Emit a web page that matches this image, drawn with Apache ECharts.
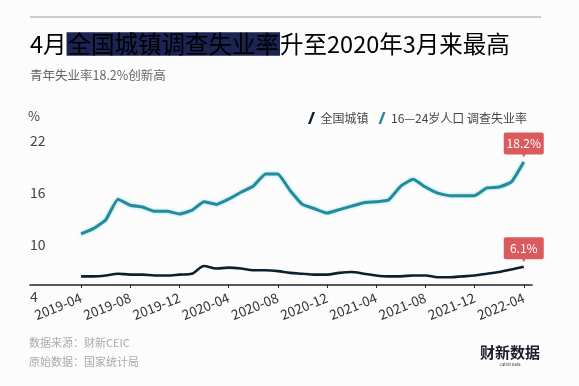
<!DOCTYPE html>
<html><head><meta charset="utf-8">
<script src="https://cdn.jsdelivr.net/npm/echarts@6/dist/echarts.min.js"></script>
<style>html,body{margin:0;padding:0;background:#fcfcfc}#c{width:579px;height:386px}</style>
</head><body><div id="c"></div>
<script>
const months = ['2019-04','2019-05','2019-06','2019-07','2019-08','2019-09','2019-10','2019-11','2019-12',
  '2020-01','2020-02','2020-03','2020-04','2020-05','2020-06','2020-07','2020-08','2020-09','2020-10','2020-11','2020-12',
  '2021-01','2021-02','2021-03','2021-04','2021-05','2021-06','2021-07','2021-08','2021-09','2021-10','2021-11','2021-12',
  '2022-01','2022-02','2022-03','2022-04'];
const tickLabels = ['2019-04','2019-08','2019-12','2020-04','2020-08','2020-12','2021-04','2021-08','2021-12','2022-04'];
const youth = [9.9,10.5,11.5,13.9,13.2,13.0,12.5,12.5,12.2,12.6,13.6,13.3,13.9,14.7,15.4,16.8,16.8,14.9,13.3,12.8,12.3,
  12.7,13.1,13.5,13.6,13.8,15.4,16.2,15.3,14.6,14.3,14.3,14.3,15.2,15.3,15.9,18.2];
const national = [5.0,5.0,5.1,5.3,5.2,5.2,5.1,5.1,5.2,5.3,6.2,5.9,6.0,5.9,5.7,5.7,5.6,5.4,5.3,5.2,5.2,
  5.4,5.5,5.3,5.1,5.0,5.0,5.1,5.1,4.9,4.9,5.0,5.1,5.3,5.5,5.8,6.1];
const yTicks = [4,10,16,22];
const seriesNames = ['全国城镇','16—24岁人口 调查失业率'];

const FONT = '"Noto Sans CJK SC","Noto Sans",sans-serif';
const tickIdx = tickLabels.map(t => months.indexOf(t));

const toData = arr => arr.map((v,i) => [i,v]);
const callout = 'path://M2,0 H38 Q40,0 40,2 V20 Q40,22 38,22 H21.5 L20,25 L18.5,22 H2 Q0,22 0,20 V2 Q0,0 2,0 Z';
function endMark(arr){
  const i = arr.length-1;
  return {
    symbol:callout, symbolSize:[40,25], symbolOffset:[0,-17], silent:true,
    itemStyle:{color:'#d95b5e'},
    label:{show:true, position:'inside', offset:[0,-1.5], color:'#fff', fontSize:12, fontFamily:FONT,
      formatter: p => p.value.toFixed(1) + '%'},
    data:[{coord:[i, arr[i]], value:arr[i]}]
  };
}
const slash = 'path://M3,12 L0.5,12 L5,0 L7.5,0 Z';

const chart = echarts.init(document.getElementById('c'), null, {renderer:'canvas'});
chart.setOption({
  backgroundColor:'#fcfcfc',
  animation:false,
  textStyle:{fontFamily:FONT},
  grid:{left:30, right:47, top:129, bottom:101, containLabel:false},
  legend:{
    data:[{name:seriesNames[0], icon:slash},{name:seriesNames[1], icon:slash}],
    left:303, top:107, itemWidth:8, itemHeight:12, itemGap:10,
    textStyle:{color:'#444', fontSize:12, fontFamily:FONT}
  },
  xAxis:{
    type:'value', min:-4.15, max:36.67,
    splitLine:{show:false},
    axisLine:{show:true, onZero:false, lineStyle:{color:'#222', width:1.5}},
    axisTick:{show:true, customValues:tickIdx, length:3, lineStyle:{color:'#222'}},
    axisLabel:{customValues:tickIdx, rotate:22, margin:12, fontSize:13.5, color:'#333',
      formatter: v => months[Math.round(v)]}
  },
  yAxis:{
    type:'value', min:yTicks[0], max:yTicks[yTicks.length-1], interval:6,
    name:'%', nameGap:6, nameTextStyle:{align:'left', color:'#444', fontSize:13, padding:[0,0,0,-2]},
    splitLine:{show:false}, axisLine:{show:false, onZero:false}, axisTick:{show:false},
    axisLabel:{inside:true, margin:0, fontSize:14, color:'#444', verticalAlign:'top', padding:[5,0,0,0],
      customValues:yTicks}
  },
  series:[
    {name:seriesNames[0], type:'line', data:toData(national), showSymbol:false, symbol:'none',
      smooth:0.3, lineStyle:{color:'#0e1f2c', width:2.6}, itemStyle:{color:'#0e1f2c'},
      markPoint:endMark(national), z:3},
    {name:seriesNames[1], type:'line', data:toData(youth), showSymbol:false, symbol:'none',
      smooth:0.12, lineStyle:{color:'#258b9c', width:3, shadowColor:'rgba(70,200,220,0.6)', shadowBlur:3},
      itemStyle:{color:'#258b9c'}, markPoint:endMark(youth), z:4}
  ],
  graphic:[
    {type:'line', shape:{x1:30,y1:17,x2:541,y2:17}, style:{stroke:'#9a9a9a', lineWidth:1}},
    {type:'text', x:30, y:44, style:{
      text:'{a|4月}{h|全国城镇调查失业率}{a|升至2020年3月来最高}',
      verticalAlign:'middle', fontFamily:FONT,
      rich:{
        a:{fontSize:23.5, color:'#1e1e1e', fontFamily:FONT},
        h:{fontSize:23.5, color:'#ffffff', fontFamily:FONT, backgroundColor:'#1b2452', padding:[0,1,0,1]}
      }}},
    {type:'text', x:30, y:75, style:{text:'青年失业率18.2%创新高', fontSize:12.5, fill:'#666', fontFamily:FONT, verticalAlign:'middle'}},
    {type:'text', x:29, y:343, style:{text:'数据来源：财新CEIC', fontSize:11, fill:'#aaa', fontFamily:FONT, verticalAlign:'middle'}},
    {type:'text', x:29, y:362, style:{text:'原始数据：国家统计局', fontSize:11, fill:'#aaa', fontFamily:FONT, verticalAlign:'middle'}},
    {type:'text', x:510, y:352, style:{text:'财新数据', fontSize:15, fontWeight:'bold', fill:'#1a1a2a', fontFamily:FONT, align:'center', verticalAlign:'middle'}},
    {type:'text', x:510, y:364, style:{text:'Caixin Data', fontSize:4, fill:'#333', fontFamily:FONT, align:'center', verticalAlign:'middle'}}
  ]
});
</script></body></html>
